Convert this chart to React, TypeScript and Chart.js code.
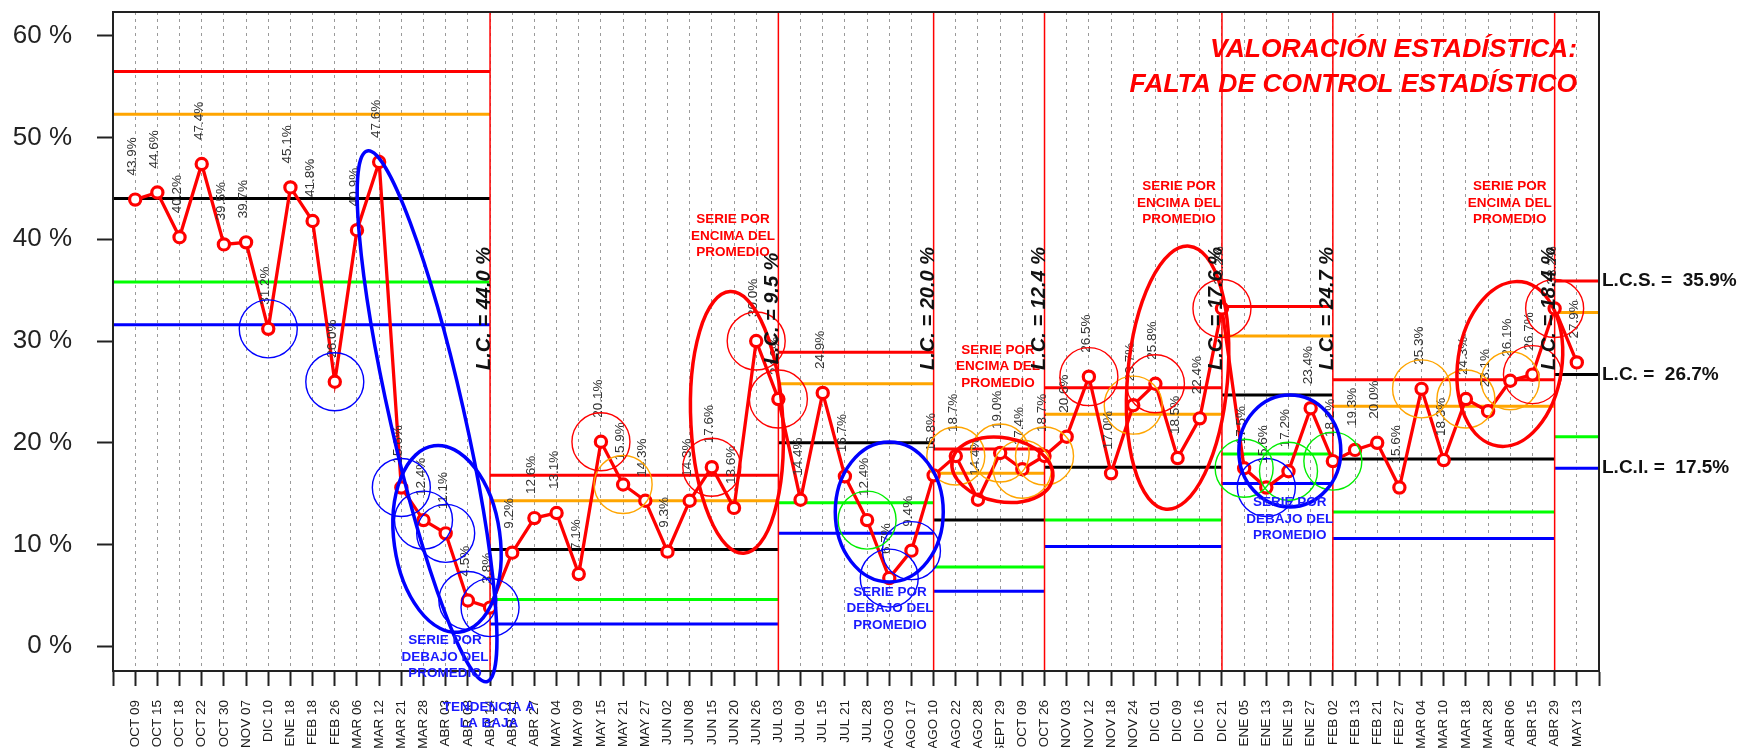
import React, { useEffect, useRef } from "react";
import { Chart, registerables } from "chart.js";

Chart.register(...registerables);

// ---------- data ----------
const categories = [
  "OCT 09", "OCT 15", "OCT 18", "OCT 22", "OCT 30", "NOV 07", "DIC 10", "ENE 18", "FEB 18", "FEB 26",
  "MAR 06", "MAR 12", "MAR 21", "MAR 28", "ABR 03", "ABR 08", "ABR 14", "ABR 21", "ABR 27", "MAY 04",
  "MAY 09", "MAY 15", "MAY 21", "MAY 27", "JUN 02", "JUN 08", "JUN 15", "JUN 20", "JUN 26", "JUL 03",
  "JUL 09", "JUL 15", "JUL 21", "JUL 28", "AGO 03", "AGO 17", "AGO 10", "AGO 22", "AGO 28", "SEPT 29",
  "OCT 09", "OCT 26", "NOV 03", "NOV 12", "NOV 18", "NOV 24", "DIC 01", "DIC 09", "DIC 16", "DIC 21",
  "ENE 05", "ENE 13", "ENE 19", "ENE 27", "FEB 02", "FEB 13", "FEB 21", "FEB 27", "MAR 04", "MAR 10",
  "MAR 18", "MAR 28", "ABR 06", "ABR 15", "ABR 29", "MAY 13",
];

const values = [
  43.9, 44.6, 40.2, 47.4, 39.5, 39.7, 31.2, 45.1, 41.8, 26.0, 40.9, 47.6, 15.6, 12.4, 11.1, 4.5, 3.8,
  9.2, 12.6, 13.1, 7.1, 20.1, 15.9, 14.3, 9.3, 14.3, 17.6, 13.6, 30.0, 24.3,
  14.4, 24.9, 16.7, 12.4, 6.7, 9.4, 16.8,
  18.7, 14.4, 19.0, 17.4, 18.7,
  20.6, 26.5, 17.0, 23.7, 25.8, 18.5, 22.4, 33.2,
  17.5, 15.6, 17.2, 23.4, 18.2,
  19.3, 20.0, 15.6, 25.3, 18.3, 24.3, 23.1, 26.1, 26.7, 33.2,
  27.9,
];

// segment limits (category index positions); first/last are the plot edges
const segmentBreaks = [-1, 16, 29, 36, 41, 49, 54, 64, 66];
const lcsValues = [56.5, 16.8, 28.9, 19.4, 25.4, 33.4, 26.2, 35.9];
const upperWarnValues = [52.3, 14.3, 25.8, 17.0, 22.8, 30.5, 23.6, 32.8];
const lcValues = [44.0, 9.5, 20.0, 12.4, 17.6, 24.7, 18.4, 26.7];
const lowerWarnValues = [35.8, 4.6, 14.1, 7.8, 12.4, 18.9, 13.2, 20.6];
const lciValues = [31.6, 2.2, 11.1, 5.4, 9.8, 16.0, 10.6, 17.5];

const yTicks = [0, 10, 20, 30, 40, 50, 60];
const xTickValues = Array.from({ length: 68 }, (_, k) => k - 1);

// highlighted points
const blueCircles = [6, 9, 12, 13, 14, 15, 16, 34, 35, 51];
const greenCircles = [33, 50, 52, 54];
const orangeCircles = [22, 37, 39, 40, 41, 45, 58, 60, 62];
const redCircles = [21, 26, 28, 29, 43, 46, 49, 63, 64];

const titleLines = ["VALORACIÓN ESTADÍSTICA:", "FALTA DE CONTROL ESTADÍSTICO"];
const belowText = ["SERIE POR", "DEBAJO DEL", "PROMEDIO"];
const aboveText = ["SERIE POR", "ENCIMA DEL", "PROMEDIO"];
const trendText = ["TENDENCIA A", "LA BAJA"];

// ---------- annotation geometry (style/layout) ----------
const ellipses = [
  { cx: 13.16, cy: 22.6, a: 272, b: 37, rot: 77.3, color: "#0000ff" },
  { cx: 14.06, cy: 10.55, a: 94, b: 53, rot: 82, color: "#0000ff" },
  { cx: 27.13, cy: 22.0, a: 131, b: 46, rot: 87, color: "#ff0000" },
  { cx: 34.0, cy: 13.2, a: 70, b: 54, rot: 90, color: "#0000ff" },
  { cx: 39.1, cy: 17.35, a: 51, b: 32, rot: 10, color: "#ff0000" },
  { cx: 47.0, cy: 26.4, a: 132, b: 50, rot: -85, color: "#ff0000" },
  { cx: 52.06, cy: 19.2, a: 56, b: 51, rot: 90, color: "#0000ff" },
  { cx: 61.98, cy: 27.75, a: 83, b: 52, rot: -81.7, color: "#ff0000" },
];

const textBlocks = [
  { cx: 13.97, cy: -1.05, lines: belowText, color: "#1a1aff" },
  { cx: 34.03, cy: 3.7, lines: belowText, color: "#1a1aff" },
  { cx: 52.06, cy: 12.5, lines: belowText, color: "#1a1aff" },
  { cx: 15.95, cy: -6.8, lines: trendText, color: "#1a1aff" },
  { cx: 26.95, cy: 40.3, lines: aboveText, color: "#ff0000" },
  { cx: 38.9, cy: 27.5, lines: aboveText, color: "#ff0000" },
  { cx: 47.06, cy: 43.57, lines: aboveText, color: "#ff0000" },
  { cx: 61.98, cy: 43.57, lines: aboveText, color: "#ff0000" },
];

const Y_MIN = -2.43;
const Y_MAX = 62.34;
const FONT = '"Liberation Sans", Arial, sans-serif';

function segmentLine(vals: number[]) {
  const pts: { x: number; y: number | null }[] = [];
  vals.forEach((v, k) => {
    pts.push({ x: segmentBreaks[k], y: v });
    pts.push({ x: segmentBreaks[k + 1], y: v });
    pts.push({ x: segmentBreaks[k + 1], y: null });
  });
  return pts;
}

function verticalBreaks() {
  const pts: { x: number; y: number | null }[] = [];
  segmentBreaks.slice(1, -1).forEach((b) => {
    pts.push({ x: b, y: Y_MIN });
    pts.push({ x: b, y: Y_MAX });
    pts.push({ x: b, y: null });
  });
  return pts;
}

const annotationPlugin = {
  id: "controlAnnotations",
  afterDraw(chart: any) {
    const { ctx, chartArea, scales } = chart;
    const xs = scales.x;
    const ys = scales.y;
    const px = (i: number) => xs.getPixelForValue(i);
    const py = (v: number) => ys.getPixelForValue(v);
    ctx.save();

    // plot box
    ctx.strokeStyle = "#222";
    ctx.lineWidth = 2;
    ctx.strokeRect(chartArea.left, chartArea.top, chartArea.right - chartArea.left, chartArea.bottom - chartArea.top);

    // data labels
    ctx.fillStyle = "#333";
    ctx.font = `13.5px ${FONT}`;
    ctx.textAlign = "left";
    ctx.textBaseline = "alphabetic";
    values.forEach((v, i) => {
      ctx.save();
      ctx.translate(px(i) + 1, py(v) - 24);
      ctx.rotate(-Math.PI / 2);
      ctx.fillText(v.toFixed(1) + "%", 0, 0);
      ctx.restore();
    });

    // circles
    const drawCircles = (list: number[], color: string) => {
      ctx.strokeStyle = color;
      ctx.lineWidth = 1.4;
      list.forEach((i) => {
        ctx.beginPath();
        ctx.arc(px(i), py(values[i]), 29, 0, Math.PI * 2);
        ctx.stroke();
      });
    };
    drawCircles(blueCircles, "#0000ff");
    drawCircles(greenCircles, "#00ee00");
    drawCircles(orangeCircles, "#ffa500");
    drawCircles(redCircles, "#ff0000");

    // ellipses
    ellipses.forEach((e) => {
      ctx.strokeStyle = e.color;
      ctx.lineWidth = 3.5;
      ctx.beginPath();
      ctx.ellipse(px(e.cx), py(e.cy), e.a, e.b, (e.rot * Math.PI) / 180, 0, Math.PI * 2);
      ctx.stroke();
    });

    // text blocks
    ctx.font = `bold 13.5px ${FONT}`;
    ctx.textAlign = "center";
    ctx.textBaseline = "middle";
    textBlocks.forEach((t) => {
      ctx.fillStyle = t.color;
      const n = t.lines.length;
      t.lines.forEach((line, k) => {
        ctx.fillText(line, px(t.cx), py(t.cy) + (k - (n - 1) / 2) * 16.5);
      });
    });

    // rotated centre-line labels
    ctx.fillStyle = "#111";
    ctx.font = `italic bold 20px ${FONT}`;
    ctx.textAlign = "center";
    ctx.textBaseline = "alphabetic";
    segmentBreaks.slice(1, -1).forEach((b, k) => {
      ctx.save();
      ctx.translate(px(b), py(33.2));
      ctx.rotate(-Math.PI / 2);
      ctx.fillText(`L.C. = ${lcValues[k].toFixed(1)} %`, 0, 0);
      ctx.restore();
    });

    // right-hand labels for last segment
    const last = lcValues.length - 1;
    ctx.font = `bold 19px ${FONT}`;
    ctx.textAlign = "left";
    ctx.textBaseline = "middle";
    ctx.fillStyle = "#111";
    const rx = chartArea.right + 3;
    ctx.fillText(`L.C.S. =  ${lcsValues[last].toFixed(1)}%`, rx, py(lcsValues[last]));
    ctx.fillText(`L.C. =  ${lcValues[last].toFixed(1)}%`, rx, py(lcValues[last]));
    ctx.fillText(`L.C.I. =  ${lciValues[last].toFixed(1)}%`, rx, py(lciValues[last]));

    // title
    ctx.font = `italic bold 26.5px ${FONT}`;
    ctx.fillStyle = "#ff0000";
    ctx.textAlign = "right";
    ctx.textBaseline = "alphabetic";
    ctx.fillText(titleLines[0], 1577, 57);
    ctx.fillText(titleLines[1], 1577, 92);

    ctx.restore();
  },
};

export default function App() {
  const canvasRef = useRef<HTMLCanvasElement | null>(null);

  useEffect(() => {
    document.body.style.margin = "0";
    const canvas = canvasRef.current;
    if (!canvas) return;
    const lineDs = (label: string, vals: number[], color: string, order: number) => ({
      label,
      data: segmentLine(vals),
      borderColor: color,
      borderWidth: 3,
      pointRadius: 0,
      spanGaps: false,
      order,
    });
    const chart = new Chart(canvas, {
      type: "line",
      data: {
        datasets: [
          {
            label: "Porcentaje",
            data: values.map((v, i) => ({ x: i, y: v })),
            borderColor: "#ff0000",
            borderWidth: 3.3,
            pointRadius: 5.6,
            pointBorderWidth: 3.2,
            pointBorderColor: "#ff0000",
            pointBackgroundColor: "#ffffff",
            order: 0,
          },
          {
            label: "Cortes",
            data: verticalBreaks(),
            borderColor: "#ff0000",
            borderWidth: 1.5,
            pointRadius: 0,
            spanGaps: false,
            order: 1,
          },
          lineDs("LCS", lcsValues, "#ff0000", 2),
          lineDs("Aviso sup.", upperWarnValues, "#ffa500", 3),
          lineDs("LC", lcValues, "#000000", 4),
          lineDs("Aviso inf.", lowerWarnValues, "#00ff00", 5),
          lineDs("LCI", lciValues, "#0000ff", 6),
        ] as any,
      },
      options: {
        responsive: false,
        animation: false,
        layout: { padding: { top: 12, right: 140, bottom: 0, left: 0 } },
        elements: { line: { tension: 0 } },
        plugins: {
          legend: { display: false },
          tooltip: { enabled: false },
          title: { display: false },
        },
        scales: {
          x: {
            type: "linear",
            min: -1,
            max: 66,
            afterBuildTicks: (s: any) => {
              s.ticks = xTickValues.map((v) => ({ value: v }));
            },
            afterFit: (s: any) => {
              s.height = 77;
              s.paddingLeft = 0;
              s.paddingRight = 0;
              s.paddingTop = 0;
              s.paddingBottom = 0;
            },
            ticks: {
              autoSkip: false,
              minRotation: 90,
              maxRotation: 90,
              padding: 14,
              color: "#1a1a1a",
              font: { family: FONT, size: 13.5 },
              callback: (v: any) => categories[v] ?? "",
            },
            grid: {
              color: "#9a9a9a",
              lineWidth: 1,
              tickLength: 15,
              tickColor: "#222",
              tickWidth: 2,
              drawOnChartArea: true,
            },
            border: { display: true, color: "#222", width: 2, dash: [3, 4] },
          },
          y: {
            type: "linear",
            min: Y_MIN,
            max: Y_MAX,
            afterBuildTicks: (s: any) => {
              s.ticks = yTicks.map((v) => ({ value: v }));
            },
            afterFit: (s: any) => {
              s.width = 113;
              s.paddingLeft = 0;
              s.paddingRight = 0;
              s.paddingTop = 0;
              s.paddingBottom = 0;
            },
            ticks: {
              padding: 25,
              color: "#222",
              font: { family: FONT, size: 26 },
              callback: (v: any) => `${v} %`,
            },
            grid: { drawOnChartArea: false, tickLength: 16, tickColor: "#222", tickWidth: 2 },
            border: { display: true, color: "#222", width: 2 },
          },
        },
      } as any,
      plugins: [annotationPlugin],
    });
    return () => chart.destroy();
  }, []);

  return (
    <div style={{ position: "absolute", left: 0, top: 0, width: 1739, height: 748, background: "#fff" }}>
      <canvas ref={canvasRef} width={1739} height={748} style={{ display: "block" }} />
    </div>
  );
}
